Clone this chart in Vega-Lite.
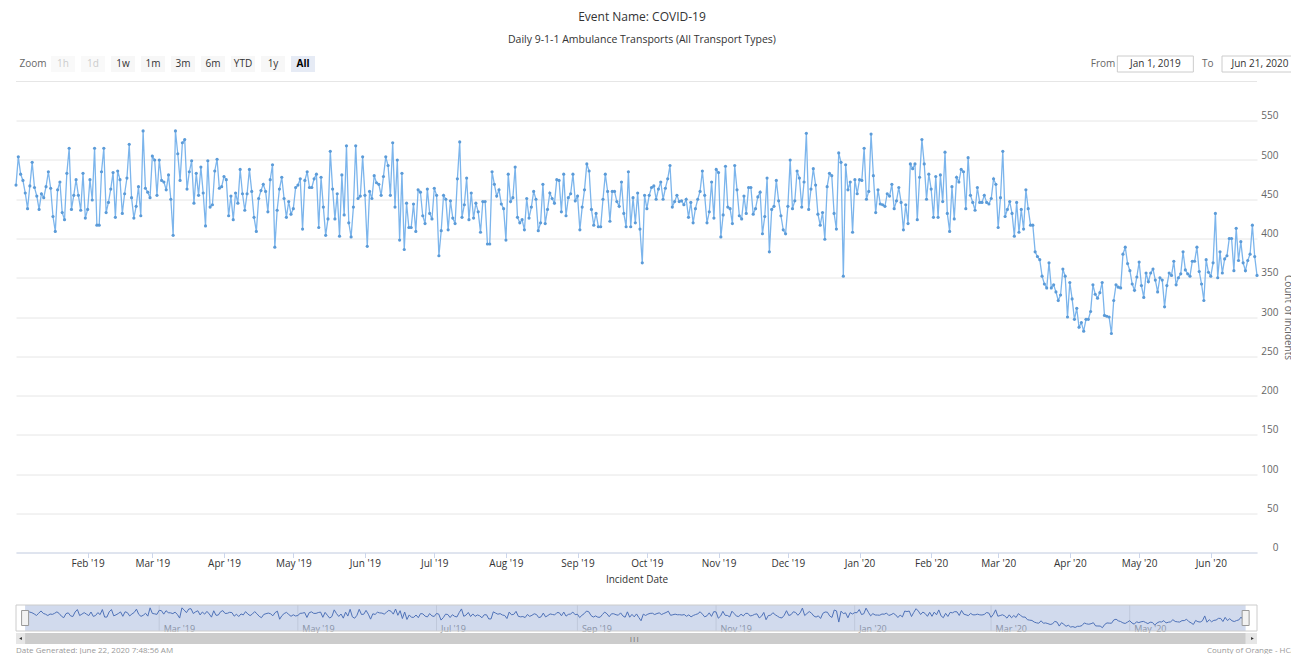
{
"$schema": "https://vega.github.io/schema/vega-lite/v6.json",
"background": "white",
"padding": {"left": 13, "top": 10, "right": 0, "bottom": 0},
"spacing": 7.5,
"config": {"font": "Open Sans", "view": {"stroke": null}, "axis": {"labelFont": "Open Sans", "titleFont": "Open Sans"}},
"title": {"text": "Event Name: COVID-19", "subtitle": "Daily 9-1-1 Ambulance Transports (All Transport Types)", "anchor": "middle", "fontSize": 12, "fontWeight": "normal", "color": "#333333", "subtitleFontSize": 10.5, "subtitleColor": "#333333", "subtitlePadding": 11, "offset": 9.5, "dx": -22, "font": "Open Sans", "subtitleFont": "Open Sans"},
"datasets": {
"buttons": [{"label":"Zoom","state":"label"},{"label":"1h","state":"disabled"},{"label":"1d","state":"disabled"},{"label":"1w","state":"normal"},{"label":"1m","state":"normal"},{"label":"3m","state":"normal"},{"label":"6m","state":"normal"},{"label":"YTD","state":"normal"},{"label":"1y","state":"normal"},{"label":"All","state":"selected"}],
"inputs": [{"label":"From","kind":"caption"},{"label":"Jan 1, 2019","kind":"input"},{"label":"To","kind":"caption"},{"label":"Jun 21, 2020","kind":"input"}],
"navticks": [{"tick":"2019-03-01"},{"tick":"2019-05-01"},{"tick":"2019-07-01"},{"tick":"2019-09-01"},{"tick":"2019-11-01"},{"tick":"2020-01-01"},{"tick":"2020-03-01"},{"tick":"2020-05-01"}],
"handles": [{"edge":"start","date":"2019-01-01"},{"edge":"end","date":"2020-06-21"}],
"series": [
{"date":"2019-01-01","count":468},{"date":"2019-01-02","count":504},{"date":"2019-01-03","count":482},{"date":"2019-01-04","count":474},{"date":"2019-01-05","count":458},{"date":"2019-01-06","count":438},{"date":"2019-01-07","count":467},{"date":"2019-01-08","count":497},{"date":"2019-01-09","count":465},{"date":"2019-01-10","count":454},{"date":"2019-01-11","count":437},{"date":"2019-01-12","count":457},{"date":"2019-01-13","count":452},{"date":"2019-01-14","count":466},{"date":"2019-01-15","count":485},{"date":"2019-01-16","count":464},{"date":"2019-01-17","count":428},{"date":"2019-01-18","count":409},{"date":"2019-01-19","count":462},{"date":"2019-01-20","count":472},{"date":"2019-01-21","count":433},{"date":"2019-01-22","count":424},{"date":"2019-01-23","count":483},{"date":"2019-01-24","count":515},{"date":"2019-01-25","count":437},{"date":"2019-01-26","count":455},{"date":"2019-01-27","count":475},{"date":"2019-01-28","count":455},{"date":"2019-01-29","count":436},{"date":"2019-01-30","count":483},{"date":"2019-01-31","count":426},
{"date":"2019-02-01","count":437},{"date":"2019-02-02","count":475},{"date":"2019-02-03","count":449},{"date":"2019-02-04","count":515},{"date":"2019-02-05","count":417},{"date":"2019-02-06","count":417},{"date":"2019-02-07","count":485},{"date":"2019-02-08","count":515},{"date":"2019-02-09","count":433},{"date":"2019-02-10","count":446},{"date":"2019-02-11","count":463},{"date":"2019-02-12","count":484},{"date":"2019-02-13","count":427},{"date":"2019-02-14","count":486},{"date":"2019-02-15","count":475},{"date":"2019-02-16","count":432},{"date":"2019-02-17","count":457},{"date":"2019-02-18","count":477},{"date":"2019-02-19","count":520},{"date":"2019-02-20","count":452},{"date":"2019-02-21","count":426},{"date":"2019-02-22","count":441},{"date":"2019-02-23","count":466},{"date":"2019-02-24","count":429},{"date":"2019-02-25","count":537},{"date":"2019-02-26","count":464},{"date":"2019-02-27","count":459},{"date":"2019-02-28","count":452},
{"date":"2019-03-01","count":505},{"date":"2019-03-02","count":500},{"date":"2019-03-03","count":455},{"date":"2019-03-04","count":500},{"date":"2019-03-05","count":474},{"date":"2019-03-06","count":472},{"date":"2019-03-07","count":462},{"date":"2019-03-08","count":481},{"date":"2019-03-09","count":450},{"date":"2019-03-10","count":404},{"date":"2019-03-11","count":537},{"date":"2019-03-12","count":508},{"date":"2019-03-13","count":474},{"date":"2019-03-14","count":522},{"date":"2019-03-15","count":526},{"date":"2019-03-16","count":463},{"date":"2019-03-17","count":485},{"date":"2019-03-18","count":499},{"date":"2019-03-19","count":445},{"date":"2019-03-20","count":483},{"date":"2019-03-21","count":455},{"date":"2019-03-22","count":491},{"date":"2019-03-23","count":458},{"date":"2019-03-24","count":416},{"date":"2019-03-25","count":499},{"date":"2019-03-26","count":440},{"date":"2019-03-27","count":443},{"date":"2019-03-28","count":486},{"date":"2019-03-29","count":501},{"date":"2019-03-30","count":464},{"date":"2019-03-31","count":466},
{"date":"2019-04-01","count":479},{"date":"2019-04-02","count":475},{"date":"2019-04-03","count":429},{"date":"2019-04-04","count":454},{"date":"2019-04-05","count":424},{"date":"2019-04-06","count":458},{"date":"2019-04-07","count":445},{"date":"2019-04-08","count":488},{"date":"2019-04-09","count":457},{"date":"2019-04-10","count":436},{"date":"2019-04-11","count":457},{"date":"2019-04-12","count":488},{"date":"2019-04-13","count":460},{"date":"2019-04-14","count":427},{"date":"2019-04-15","count":409},{"date":"2019-04-16","count":451},{"date":"2019-04-17","count":461},{"date":"2019-04-18","count":469},{"date":"2019-04-19","count":460},{"date":"2019-04-20","count":434},{"date":"2019-04-21","count":475},{"date":"2019-04-22","count":494},{"date":"2019-04-23","count":389},{"date":"2019-04-24","count":436},{"date":"2019-04-25","count":463},{"date":"2019-04-26","count":478},{"date":"2019-04-27","count":451},{"date":"2019-04-28","count":427},{"date":"2019-04-29","count":447},{"date":"2019-04-30","count":431},
{"date":"2019-05-01","count":438},{"date":"2019-05-02","count":465},{"date":"2019-05-03","count":468},{"date":"2019-05-04","count":476},{"date":"2019-05-05","count":412},{"date":"2019-05-06","count":474},{"date":"2019-05-07","count":485},{"date":"2019-05-08","count":465},{"date":"2019-05-09","count":465},{"date":"2019-05-10","count":476},{"date":"2019-05-11","count":482},{"date":"2019-05-12","count":414},{"date":"2019-05-13","count":478},{"date":"2019-05-14","count":440},{"date":"2019-05-15","count":404},{"date":"2019-05-16","count":425},{"date":"2019-05-17","count":511},{"date":"2019-05-18","count":463},{"date":"2019-05-19","count":425},{"date":"2019-05-20","count":457},{"date":"2019-05-21","count":403},{"date":"2019-05-22","count":481},{"date":"2019-05-23","count":430},{"date":"2019-05-24","count":518},{"date":"2019-05-25","count":420},{"date":"2019-05-26","count":402},{"date":"2019-05-27","count":440},{"date":"2019-05-28","count":518},{"date":"2019-05-29","count":451},{"date":"2019-05-30","count":454},{"date":"2019-05-31","count":504},
{"date":"2019-06-01","count":455},{"date":"2019-06-02","count":390},{"date":"2019-06-03","count":460},{"date":"2019-06-04","count":451},{"date":"2019-06-05","count":480},{"date":"2019-06-06","count":471},{"date":"2019-06-07","count":469},{"date":"2019-06-08","count":455},{"date":"2019-06-09","count":479},{"date":"2019-06-10","count":504},{"date":"2019-06-11","count":493},{"date":"2019-06-12","count":455},{"date":"2019-06-13","count":522},{"date":"2019-06-14","count":440},{"date":"2019-06-15","count":500},{"date":"2019-06-16","count":398},{"date":"2019-06-17","count":483},{"date":"2019-06-18","count":386},{"date":"2019-06-19","count":445},{"date":"2019-06-20","count":414},{"date":"2019-06-21","count":414},{"date":"2019-06-22","count":444},{"date":"2019-06-23","count":409},{"date":"2019-06-24","count":462},{"date":"2019-06-25","count":459},{"date":"2019-06-26","count":429},{"date":"2019-06-27","count":419},{"date":"2019-06-28","count":463},{"date":"2019-06-29","count":432},{"date":"2019-06-30","count":425},
{"date":"2019-07-01","count":464},{"date":"2019-07-02","count":455},{"date":"2019-07-03","count":378},{"date":"2019-07-04","count":410},{"date":"2019-07-05","count":455},{"date":"2019-07-06","count":450},{"date":"2019-07-07","count":411},{"date":"2019-07-08","count":448},{"date":"2019-07-09","count":426},{"date":"2019-07-10","count":419},{"date":"2019-07-11","count":476},{"date":"2019-07-12","count":523},{"date":"2019-07-13","count":427},{"date":"2019-07-14","count":443},{"date":"2019-07-15","count":477},{"date":"2019-07-16","count":424},{"date":"2019-07-17","count":458},{"date":"2019-07-18","count":426},{"date":"2019-07-19","count":445},{"date":"2019-07-20","count":434},{"date":"2019-07-21","count":408},{"date":"2019-07-22","count":447},{"date":"2019-07-23","count":447},{"date":"2019-07-24","count":393},{"date":"2019-07-25","count":393},{"date":"2019-07-26","count":485},{"date":"2019-07-27","count":469},{"date":"2019-07-28","count":454},{"date":"2019-07-29","count":462},{"date":"2019-07-30","count":444},{"date":"2019-07-31","count":438},
{"date":"2019-08-01","count":398},{"date":"2019-08-02","count":482},{"date":"2019-08-03","count":447},{"date":"2019-08-04","count":452},{"date":"2019-08-05","count":491},{"date":"2019-08-06","count":427},{"date":"2019-08-07","count":420},{"date":"2019-08-08","count":424},{"date":"2019-08-09","count":411},{"date":"2019-08-10","count":451},{"date":"2019-08-11","count":426},{"date":"2019-08-12","count":440},{"date":"2019-08-13","count":460},{"date":"2019-08-14","count":450},{"date":"2019-08-15","count":410},{"date":"2019-08-16","count":420},{"date":"2019-08-17","count":469},{"date":"2019-08-18","count":419},{"date":"2019-08-19","count":437},{"date":"2019-08-20","count":458},{"date":"2019-08-21","count":451},{"date":"2019-08-22","count":445},{"date":"2019-08-23","count":475},{"date":"2019-08-24","count":474},{"date":"2019-08-25","count":434},{"date":"2019-08-26","count":482},{"date":"2019-08-27","count":429},{"date":"2019-08-28","count":452},{"date":"2019-08-29","count":457},{"date":"2019-08-30","count":482},{"date":"2019-08-31","count":448},
{"date":"2019-09-01","count":454},{"date":"2019-09-02","count":411},{"date":"2019-09-03","count":440},{"date":"2019-09-04","count":462},{"date":"2019-09-05","count":495},{"date":"2019-09-06","count":486},{"date":"2019-09-07","count":437},{"date":"2019-09-08","count":417},{"date":"2019-09-09","count":432},{"date":"2019-09-10","count":415},{"date":"2019-09-11","count":415},{"date":"2019-09-12","count":450},{"date":"2019-09-13","count":482},{"date":"2019-09-14","count":460},{"date":"2019-09-15","count":422},{"date":"2019-09-16","count":460},{"date":"2019-09-17","count":460},{"date":"2019-09-18","count":447},{"date":"2019-09-19","count":441},{"date":"2019-09-20","count":472},{"date":"2019-09-21","count":432},{"date":"2019-09-22","count":415},{"date":"2019-09-23","count":485},{"date":"2019-09-24","count":415},{"date":"2019-09-25","count":452},{"date":"2019-09-26","count":420},{"date":"2019-09-27","count":458},{"date":"2019-09-28","count":412},{"date":"2019-09-29","count":369},{"date":"2019-09-30","count":455},
{"date":"2019-10-01","count":438},{"date":"2019-10-02","count":455},{"date":"2019-10-03","count":465},{"date":"2019-10-04","count":467},{"date":"2019-10-05","count":450},{"date":"2019-10-06","count":463},{"date":"2019-10-07","count":472},{"date":"2019-10-08","count":450},{"date":"2019-10-09","count":464},{"date":"2019-10-10","count":476},{"date":"2019-10-11","count":493},{"date":"2019-10-12","count":440},{"date":"2019-10-13","count":447},{"date":"2019-10-14","count":455},{"date":"2019-10-15","count":447},{"date":"2019-10-16","count":448},{"date":"2019-10-17","count":443},{"date":"2019-10-18","count":450},{"date":"2019-10-19","count":427},{"date":"2019-10-20","count":446},{"date":"2019-10-21","count":420},{"date":"2019-10-22","count":438},{"date":"2019-10-23","count":450},{"date":"2019-10-24","count":460},{"date":"2019-10-25","count":486},{"date":"2019-10-26","count":455},{"date":"2019-10-27","count":420},{"date":"2019-10-28","count":434},{"date":"2019-10-29","count":472},{"date":"2019-10-30","count":426},{"date":"2019-10-31","count":488},
{"date":"2019-11-01","count":484},{"date":"2019-11-02","count":402},{"date":"2019-11-03","count":430},{"date":"2019-11-04","count":492},{"date":"2019-11-05","count":440},{"date":"2019-11-06","count":438},{"date":"2019-11-07","count":419},{"date":"2019-11-08","count":493},{"date":"2019-11-09","count":462},{"date":"2019-11-10","count":429},{"date":"2019-11-11","count":425},{"date":"2019-11-12","count":454},{"date":"2019-11-13","count":432},{"date":"2019-11-14","count":465},{"date":"2019-11-15","count":465},{"date":"2019-11-16","count":431},{"date":"2019-11-17","count":438},{"date":"2019-11-18","count":453},{"date":"2019-11-19","count":459},{"date":"2019-11-20","count":406},{"date":"2019-11-21","count":428},{"date":"2019-11-22","count":477},{"date":"2019-11-23","count":383},{"date":"2019-11-24","count":437},{"date":"2019-11-25","count":441},{"date":"2019-11-26","count":474},{"date":"2019-11-27","count":448},{"date":"2019-11-28","count":429},{"date":"2019-11-29","count":411},{"date":"2019-11-30","count":406},
{"date":"2019-12-01","count":441},{"date":"2019-12-02","count":500},{"date":"2019-12-03","count":438},{"date":"2019-12-04","count":448},{"date":"2019-12-05","count":486},{"date":"2019-12-06","count":477},{"date":"2019-12-07","count":440},{"date":"2019-12-08","count":472},{"date":"2019-12-09","count":534},{"date":"2019-12-10","count":437},{"date":"2019-12-11","count":463},{"date":"2019-12-12","count":489},{"date":"2019-12-13","count":468},{"date":"2019-12-14","count":431},{"date":"2019-12-15","count":417},{"date":"2019-12-16","count":433},{"date":"2019-12-17","count":399},{"date":"2019-12-18","count":466},{"date":"2019-12-19","count":483},{"date":"2019-12-20","count":480},{"date":"2019-12-21","count":432},{"date":"2019-12-22","count":412},{"date":"2019-12-23","count":509},{"date":"2019-12-24","count":497},{"date":"2019-12-25","count":352},{"date":"2019-12-26","count":494},{"date":"2019-12-27","count":462},{"date":"2019-12-28","count":472},{"date":"2019-12-29","count":408},{"date":"2019-12-30","count":475},{"date":"2019-12-31","count":457},
{"date":"2020-01-01","count":475},{"date":"2020-01-02","count":474},{"date":"2020-01-03","count":515},{"date":"2020-01-04","count":450},{"date":"2020-01-05","count":460},{"date":"2020-01-06","count":533},{"date":"2020-01-07","count":480},{"date":"2020-01-08","count":433},{"date":"2020-01-09","count":462},{"date":"2020-01-10","count":444},{"date":"2020-01-11","count":443},{"date":"2020-01-12","count":441},{"date":"2020-01-13","count":457},{"date":"2020-01-14","count":454},{"date":"2020-01-15","count":469},{"date":"2020-01-16","count":438},{"date":"2020-01-17","count":448},{"date":"2020-01-18","count":465},{"date":"2020-01-19","count":446},{"date":"2020-01-20","count":411},{"date":"2020-01-21","count":443},{"date":"2020-01-22","count":419},{"date":"2020-01-23","count":495},{"date":"2020-01-24","count":489},{"date":"2020-01-25","count":495},{"date":"2020-01-26","count":424},{"date":"2020-01-27","count":478},{"date":"2020-01-28","count":526},{"date":"2020-01-29","count":495},{"date":"2020-01-30","count":450},{"date":"2020-01-31","count":482},
{"date":"2020-02-01","count":463},{"date":"2020-02-02","count":427},{"date":"2020-02-03","count":479},{"date":"2020-02-04","count":427},{"date":"2020-02-05","count":481},{"date":"2020-02-06","count":447},{"date":"2020-02-07","count":510},{"date":"2020-02-08","count":432},{"date":"2020-02-09","count":409},{"date":"2020-02-10","count":466},{"date":"2020-02-11","count":425},{"date":"2020-02-12","count":478},{"date":"2020-02-13","count":472},{"date":"2020-02-14","count":488},{"date":"2020-02-15","count":485},{"date":"2020-02-16","count":438},{"date":"2020-02-17","count":503},{"date":"2020-02-18","count":455},{"date":"2020-02-19","count":446},{"date":"2020-02-20","count":436},{"date":"2020-02-21","count":465},{"date":"2020-02-22","count":446},{"date":"2020-02-23","count":446},{"date":"2020-02-24","count":455},{"date":"2020-02-25","count":446},{"date":"2020-02-26","count":444},{"date":"2020-02-27","count":451},{"date":"2020-02-28","count":476},{"date":"2020-02-29","count":469},
{"date":"2020-03-01","count":414},{"date":"2020-03-02","count":452},{"date":"2020-03-03","count":511},{"date":"2020-03-04","count":428},{"date":"2020-03-05","count":437},{"date":"2020-03-06","count":447},{"date":"2020-03-07","count":432},{"date":"2020-03-08","count":403},{"date":"2020-03-09","count":446},{"date":"2020-03-10","count":408},{"date":"2020-03-11","count":437},{"date":"2020-03-12","count":412},{"date":"2020-03-13","count":462},{"date":"2020-03-14","count":438},{"date":"2020-03-15","count":417},{"date":"2020-03-16","count":417},{"date":"2020-03-17","count":383},{"date":"2020-03-18","count":377},{"date":"2020-03-19","count":373},{"date":"2020-03-20","count":352},{"date":"2020-03-21","count":342},{"date":"2020-03-22","count":337},{"date":"2020-03-23","count":369},{"date":"2020-03-24","count":337},{"date":"2020-03-25","count":341},{"date":"2020-03-26","count":332},{"date":"2020-03-27","count":321},{"date":"2020-03-28","count":328},{"date":"2020-03-29","count":361},{"date":"2020-03-30","count":352},{"date":"2020-03-31","count":300},
{"date":"2020-04-01","count":344},{"date":"2020-04-02","count":323},{"date":"2020-04-03","count":297},{"date":"2020-04-04","count":311},{"date":"2020-04-05","count":287},{"date":"2020-04-06","count":293},{"date":"2020-04-07","count":282},{"date":"2020-04-08","count":297},{"date":"2020-04-09","count":297},{"date":"2020-04-10","count":307},{"date":"2020-04-11","count":341},{"date":"2020-04-12","count":329},{"date":"2020-04-13","count":324},{"date":"2020-04-14","count":331},{"date":"2020-04-15","count":344},{"date":"2020-04-16","count":302},{"date":"2020-04-17","count":301},{"date":"2020-04-18","count":300},{"date":"2020-04-19","count":279},{"date":"2020-04-20","count":321},{"date":"2020-04-21","count":341},{"date":"2020-04-22","count":338},{"date":"2020-04-23","count":337},{"date":"2020-04-24","count":380},{"date":"2020-04-25","count":389},{"date":"2020-04-26","count":368},{"date":"2020-04-27","count":359},{"date":"2020-04-28","count":342},{"date":"2020-04-29","count":334},{"date":"2020-04-30","count":351},
{"date":"2020-05-01","count":370},{"date":"2020-05-02","count":340},{"date":"2020-05-03","count":325},{"date":"2020-05-04","count":356},{"date":"2020-05-05","count":345},{"date":"2020-05-06","count":356},{"date":"2020-05-07","count":361},{"date":"2020-05-08","count":347},{"date":"2020-05-09","count":332},{"date":"2020-05-10","count":350},{"date":"2020-05-11","count":347},{"date":"2020-05-12","count":313},{"date":"2020-05-13","count":340},{"date":"2020-05-14","count":356},{"date":"2020-05-15","count":353},{"date":"2020-05-16","count":371},{"date":"2020-05-17","count":341},{"date":"2020-05-18","count":350},{"date":"2020-05-19","count":355},{"date":"2020-05-20","count":383},{"date":"2020-05-21","count":360},{"date":"2020-05-22","count":355},{"date":"2020-05-23","count":352},{"date":"2020-05-24","count":371},{"date":"2020-05-25","count":371},{"date":"2020-05-26","count":389},{"date":"2020-05-27","count":358},{"date":"2020-05-28","count":342},{"date":"2020-05-29","count":321},{"date":"2020-05-30","count":373},{"date":"2020-05-31","count":357},
{"date":"2020-06-01","count":352},{"date":"2020-06-02","count":369},{"date":"2020-06-03","count":432},{"date":"2020-06-04","count":350},{"date":"2020-06-05","count":383},{"date":"2020-06-06","count":356},{"date":"2020-06-07","count":374},{"date":"2020-06-08","count":378},{"date":"2020-06-09","count":400},{"date":"2020-06-10","count":400},{"date":"2020-06-11","count":359},{"date":"2020-06-12","count":413},{"date":"2020-06-13","count":372},{"date":"2020-06-14","count":396},{"date":"2020-06-15","count":369},{"date":"2020-06-16","count":359},{"date":"2020-06-17","count":372},{"date":"2020-06-18","count":380},{"date":"2020-06-19","count":417},{"date":"2020-06-20","count":377},{"date":"2020-06-21","count":353}
]
},
"vconcat": [
{
"width": 1241, "height": 16,
"layer": [
{"layer": [
{"data": {"name": "buttons"}, "transform": [{"filter": "datum.state != 'label'"}],
 "mark": {"type": "bar", "width": 24},
 "encoding": {"x": {"field": "label", "type": "nominal", "scale": {"type": "point", "padding": 0, "domain": ["Zoom","1h","1d","1w","1m","3m","6m","YTD","1y","All"], "range": [17, 287]}, "axis": null},
  "fill": {"field": "state", "type": "nominal", "scale": {"domain": ["normal","disabled","selected"], "range": ["#f7f7f7","#f9f9f9","#e6ebf5"]}, "legend": null}}},
{"data": {"name": "buttons"}, "transform": [{"filter": "datum.state != 'selected'"}],
 "mark": {"type": "text", "fontSize": 10},
 "encoding": {"x": {"field": "label", "type": "nominal"}, "text": {"field": "label"},
  "color": {"field": "state", "type": "nominal", "scale": {"domain": ["label","normal","disabled"], "range": ["#666666","#333333","#cccccc"]}, "legend": null}}},
{"data": {"name": "buttons"}, "transform": [{"filter": "datum.state == 'selected'"}],
 "mark": {"type": "text", "fontSize": 10, "fontWeight": "bold", "color": "#000000"},
 "encoding": {"x": {"field": "label", "type": "nominal"}, "text": {"field": "label"}}}
]},
{"layer": [
{"data": {"name": "inputs"}, "transform": [{"filter": "datum.kind == 'input'"}],
 "mark": {"type": "bar", "width": 76, "fill": "#ffffff", "stroke": "#cccccc", "strokeWidth": 1},
 "encoding": {"x": {"field": "label", "type": "nominal", "scale": {"type": "point", "padding": 0, "domain": ["From","Jan 1, 2019","To","Jun 21, 2020"], "range": [1087, 1244]}, "axis": null}}},
{"data": {"name": "inputs"},
 "mark": {"type": "text", "fontSize": 10},
 "encoding": {"x": {"field": "label", "type": "nominal"}, "text": {"field": "label"},
  "color": {"field": "kind", "type": "nominal", "scale": {"domain": ["caption","input"], "range": ["#666666","#333333"]}, "legend": null}}}
]}
],
"resolve": {"scale": {"x": "independent", "color": "independent", "fill": "independent"}}
},
{
"width": 1241, "height": 471,
"layer": [
{"data": {"values": [{}]}, "mark": {"type": "rule", "color": "#e6e6e6", "strokeWidth": 1},
 "encoding": {"y": {"datum": 600, "type": "quantitative"}}},
{"data": {"name": "series"},
 "mark": {"type": "line", "color": "#7cb5ec", "strokeWidth": 1.3},
 "encoding": {
  "x": {"field": "date", "type": "temporal",
   "scale": {"type": "utc", "domain": [{"year": 2019, "month": 1, "date": 1, "utc": true}, {"year": 2020, "month": 6, "date": 21, "utc": true}]},
   "axis": {"values": [{"year":2019,"month":2,"date":1,"utc":true},{"year":2019,"month":3,"date":1,"utc":true},{"year":2019,"month":4,"date":1,"utc":true},{"year":2019,"month":5,"date":1,"utc":true},{"year":2019,"month":6,"date":1,"utc":true},{"year":2019,"month":7,"date":1,"utc":true},{"year":2019,"month":8,"date":1,"utc":true},{"year":2019,"month":9,"date":1,"utc":true},{"year":2019,"month":10,"date":1,"utc":true},{"year":2019,"month":11,"date":1,"utc":true},{"year":2019,"month":12,"date":1,"utc":true},{"year":2020,"month":1,"date":1,"utc":true},{"year":2020,"month":2,"date":1,"utc":true},{"year":2020,"month":3,"date":1,"utc":true},{"year":2020,"month":4,"date":1,"utc":true},{"year":2020,"month":5,"date":1,"utc":true},{"year":2020,"month":6,"date":1,"utc":true}],
    "format": "%b '%y", "title": "Incident Date", "grid": false, "domainColor": "#ccd6eb", "tickColor": "#ccd6eb", "tickSize": 5, "labelPadding": 1, "labelFontSize": 10, "labelColor": "#333333", "labelFlush": false, "titleFontSize": 10, "titleFontWeight": "normal", "titleColor": "#333333", "titlePadding": 5.5}},
  "y": {"field": "count", "type": "quantitative",
   "scale": {"domain": [0, 600], "nice": false, "zero": true},
   "axis": {"orient": "right", "values": [0,50,100,150,200,250,300,350,400,450,500,550], "title": "Count of Incidents", "grid": true, "gridColor": "#e6e6e6", "domain": false, "ticks": false, "labelAlign": "right", "labelPadding": 21, "labelOffset": -5, "labelBaseline": "middle", "labelFontSize": 10, "labelColor": "#666666", "titleFontSize": 10, "titleFontWeight": "normal", "titleColor": "#666666", "titlePadding": 4}}
 }},
{"data": {"name": "series"},
 "mark": {"type": "point", "filled": true, "size": 10, "color": "#5b9bd8", "opacity": 1},
 "encoding": {"x": {"field": "date", "type": "temporal"}, "y": {"field": "count", "type": "quantitative"}}}
]
},
{
"width": 1241, "height": 52,
"layer": [
{"data": {"name": "navticks"}, "mark": {"type": "rule", "color": "#e6e6e6", "strokeWidth": 1},
 "encoding": {"x": {"field": "tick", "type": "temporal",
   "scale": {"type": "utc", "domain": [{"year": 2018, "month": 12, "date": 28, "utc": true}, {"year": 2020, "month": 6, "date": 26, "utc": true}]},
   "axis": {"values": [{"year":2019,"month":3,"date":1,"utc":true},{"year":2019,"month":5,"date":1,"utc":true},{"year":2019,"month":7,"date":1,"utc":true},{"year":2019,"month":9,"date":1,"utc":true},{"year":2019,"month":11,"date":1,"utc":true},{"year":2020,"month":1,"date":1,"utc":true},{"year":2020,"month":3,"date":1,"utc":true},{"year":2020,"month":5,"date":1,"utc":true}],
    "format": "%b '%y", "title": null, "grid": false, "domain": false, "ticks": false, "labelPadding": -16, "labelBaseline": "middle", "labelAlign": "left", "labelOffset": 4, "labelFontSize": 9, "labelColor": "#999999", "labelFlush": false}},
  "y": {"datum": 574, "type": "quantitative", "scale": {"domain": [67, 743], "nice": false, "zero": false}, "axis": null},
  "y2": {"datum": 236}}},
{"data": {"values": [{}]}, "mark": {"type": "rect", "color": "#6685c2", "opacity": 0.3},
 "encoding": {"x": {"datum": {"year": 2019, "month": 1, "date": 1, "utc": true}, "type": "temporal"}, "x2": {"datum": {"year": 2020, "month": 6, "date": 21, "utc": true}},
  "y": {"datum": 574, "type": "quantitative"}, "y2": {"datum": 236}}},
{"data": {"values": [{}]}, "mark": {"type": "rect", "fill": null, "stroke": "#cccccc", "strokeWidth": 1},
 "encoding": {"x": {"datum": {"year": 2018, "month": 12, "date": 28, "utc": true}, "type": "temporal"}, "x2": {"datum": {"year": 2020, "month": 6, "date": 26, "utc": true}},
  "y": {"datum": 574, "type": "quantitative"}, "y2": {"datum": 236}}},
{"data": {"name": "series"}, "mark": {"type": "line", "color": "#4f72b8", "strokeWidth": 1},
 "encoding": {"x": {"field": "date", "type": "temporal"}, "y": {"field": "count", "type": "quantitative"}}},
{"data": {"name": "handles"}, "mark": {"type": "tick", "orient": "vertical", "size": 15, "thickness": 7, "color": "#f2f2f2", "stroke": "#999999", "strokeWidth": 1, "opacity": 1},
 "encoding": {"x": {"field": "date", "type": "temporal"}, "y": {"datum": 405, "type": "quantitative"}}},
{"data": {"values": [{}]}, "mark": {"type": "rect", "color": "#f2f2f2"},
 "encoding": {"x": {"datum": {"year": 2018, "month": 12, "date": 28, "utc": true}, "type": "temporal"}, "x2": {"datum": {"year": 2020, "month": 6, "date": 26, "utc": true}},
  "y": {"datum": 210, "type": "quantitative"}, "y2": {"datum": 67}}},
{"data": {"values": [{}]}, "mark": {"type": "rect", "color": "#e6e6e6"},
 "encoding": {"x": {"datum": {"year": 2018, "month": 12, "date": 28, "utc": true}, "type": "temporal"}, "x2": {"datum": {"year": 2019, "month": 1, "date": 1, "utc": true}},
  "y": {"datum": 210, "type": "quantitative"}, "y2": {"datum": 67}}},
{"data": {"values": [{}]}, "mark": {"type": "rect", "color": "#e6e6e6"},
 "encoding": {"x": {"datum": {"year": 2020, "month": 6, "date": 21, "utc": true}, "type": "temporal"}, "x2": {"datum": {"year": 2020, "month": 6, "date": 26, "utc": true}},
  "y": {"datum": 210, "type": "quantitative"}, "y2": {"datum": 67}}},
{"data": {"values": [{}]}, "mark": {"type": "rect", "color": "#cccccc"},
 "encoding": {"x": {"datum": {"year": 2019, "month": 1, "date": 1, "utc": true}, "type": "temporal"}, "x2": {"datum": {"year": 2020, "month": 6, "date": 21, "utc": true}},
  "y": {"datum": 210, "type": "quantitative"}, "y2": {"datum": 67}}},
{"data": {"values": [{}]}, "mark": {"type": "point", "shape": "triangle-left", "filled": true, "size": 10, "color": "#333333", "opacity": 1},
 "encoding": {"x": {"datum": {"year": 2018, "month": 12, "date": 30, "utc": true}, "type": "temporal"}, "y": {"datum": 138, "type": "quantitative"}}},
{"data": {"values": [{}]}, "mark": {"type": "point", "shape": "triangle-right", "filled": true, "size": 10, "color": "#333333", "opacity": 1},
 "encoding": {"x": {"datum": {"year": 2020, "month": 6, "date": 24, "utc": true}, "type": "temporal"}, "y": {"datum": 138, "type": "quantitative"}}},
{"data": {"values": [{}]}, "mark": {"type": "text", "text": "|||", "fontSize": 6, "color": "#333333"},
 "encoding": {"x": {"datum": {"year": 2019, "month": 9, "date": 26, "utc": true}, "type": "temporal"}, "y": {"datum": 138, "type": "quantitative"}}},
{"data": {"values": [{}]}, "mark": {"type": "text", "text": "Date Generated: June 22, 2020 7:48:56 AM", "fontSize": 8, "color": "#999999", "align": "left", "baseline": "middle"},
 "encoding": {"x": {"datum": {"year": 2018, "month": 12, "date": 28, "utc": true}, "type": "temporal"}, "y": {"datum": -29, "type": "quantitative"}}},
{"data": {"values": [{}]}, "mark": {"type": "text", "text": "County of Orange - HCA/EMS", "fontSize": 8, "color": "#999999", "align": "left", "baseline": "middle"},
 "encoding": {"x": {"datum": {"year": 2020, "month": 6, "date": 4, "utc": true}, "type": "temporal"}, "y": {"datum": -29, "type": "quantitative"}}}
]
}
]
}
